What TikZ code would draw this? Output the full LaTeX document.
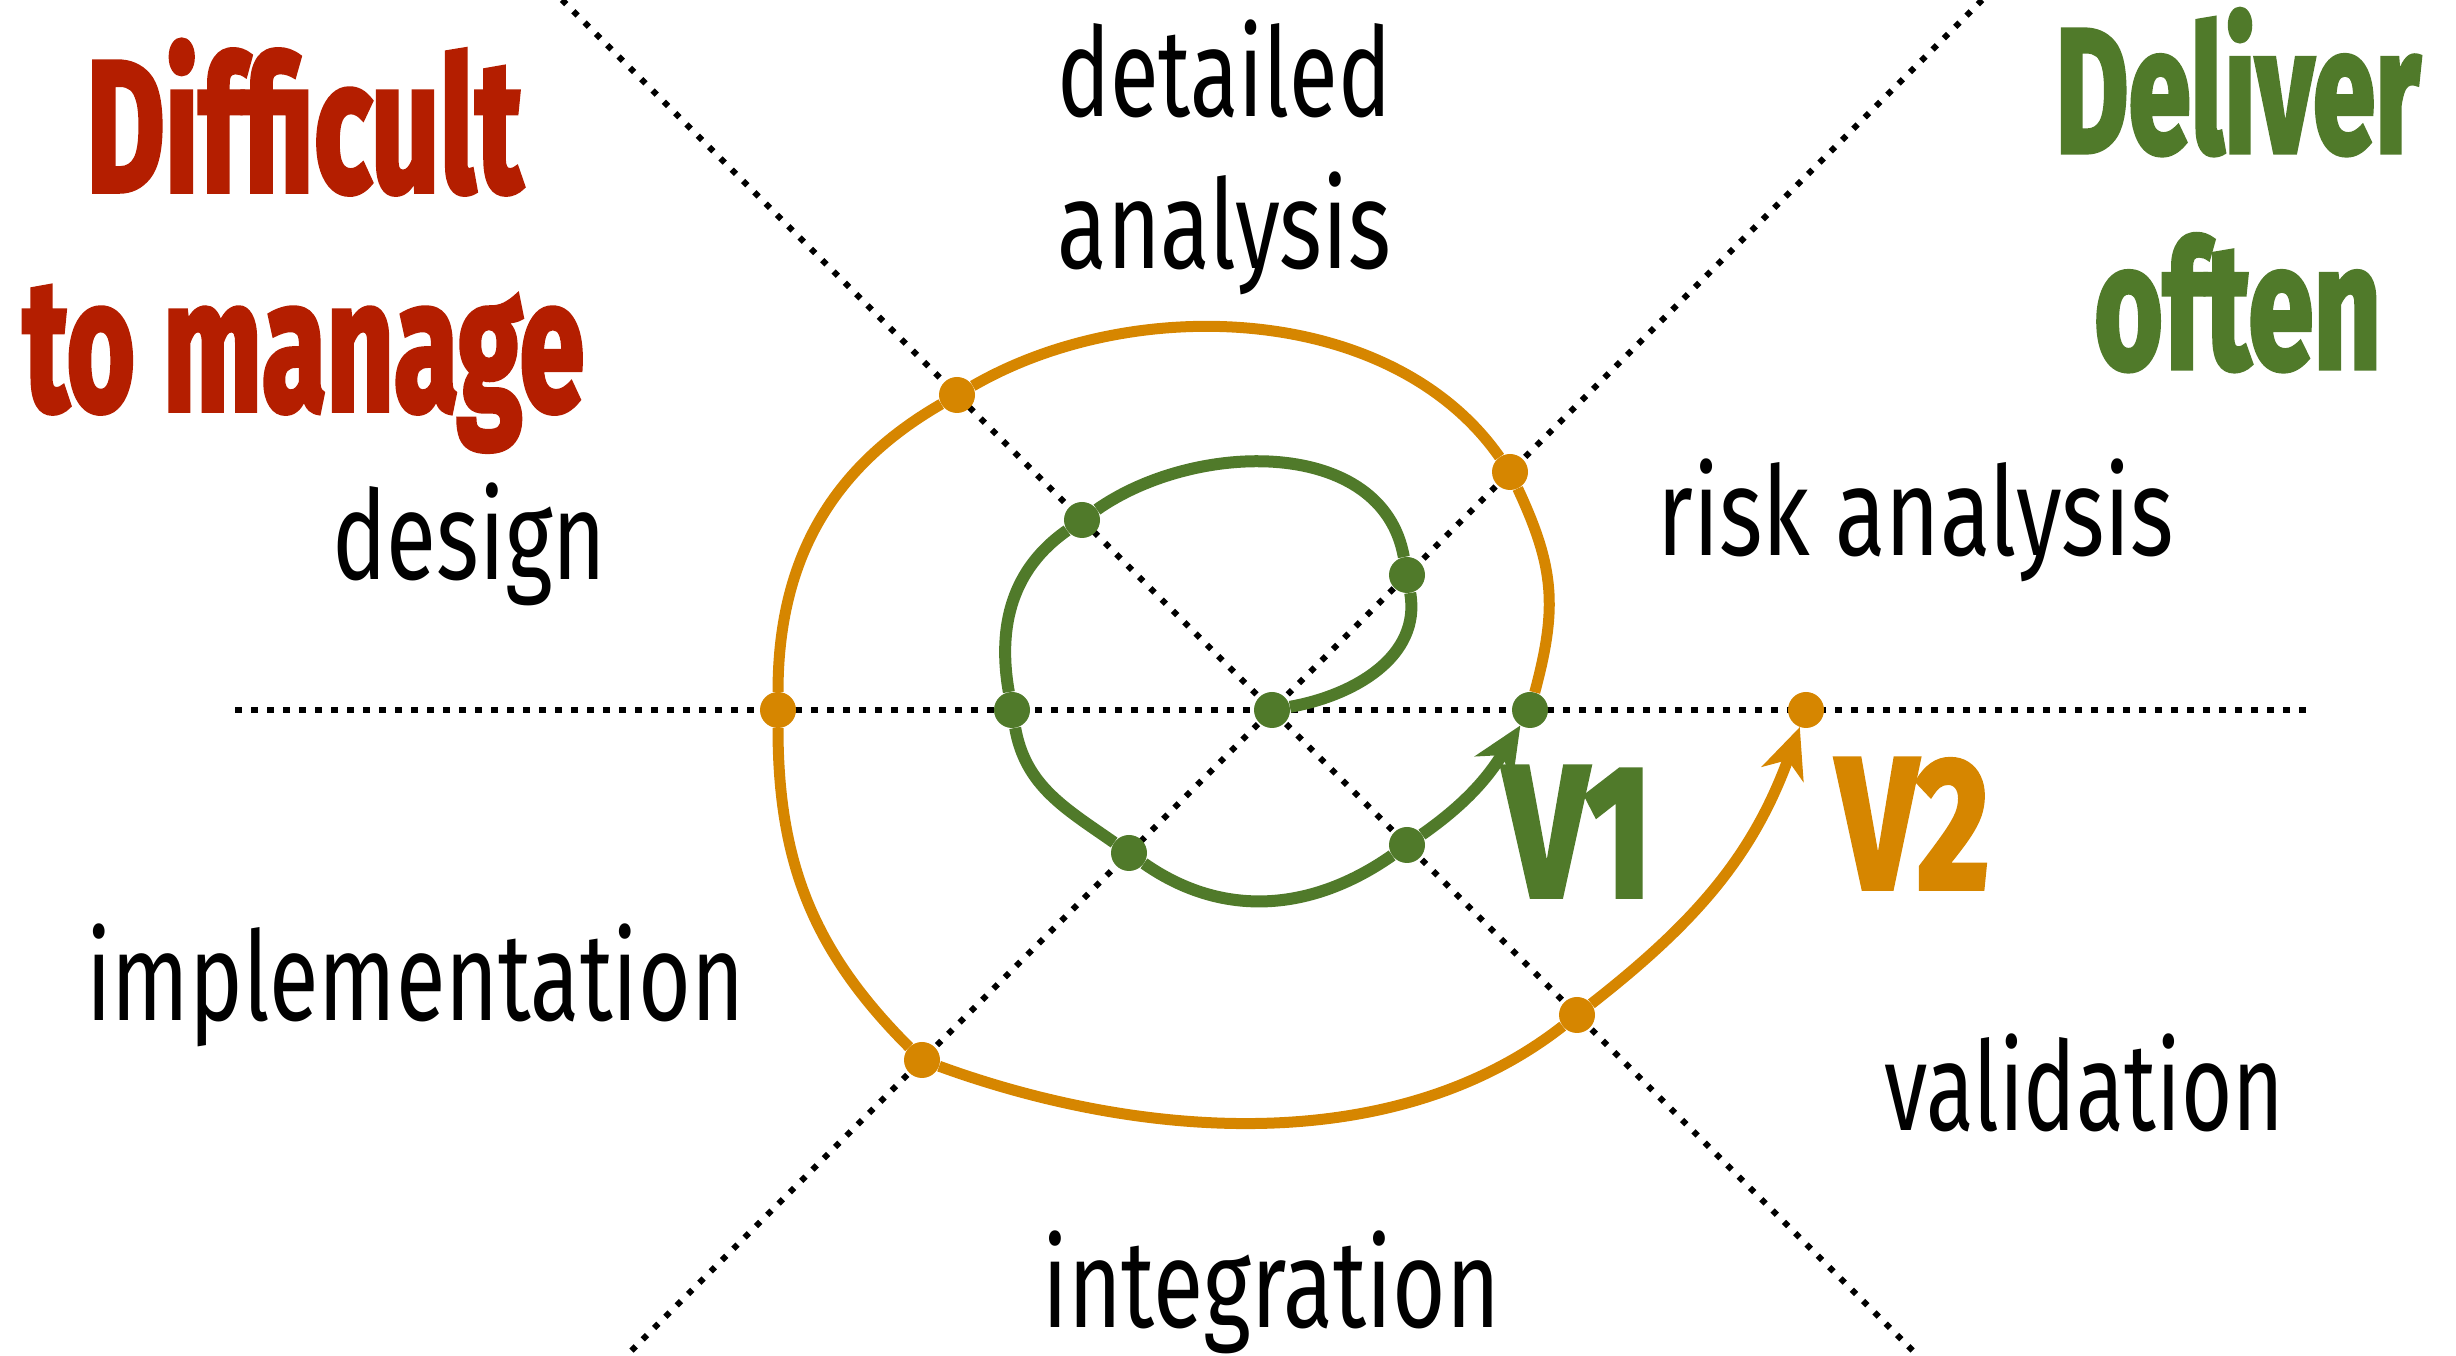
\documentclass[tikz,border=0pt]{standalone}
\usepackage{fontspec}
\setmainfont{Fira Sans}
\usetikzlibrary{arrows.meta}
\definecolor{cred}{RGB}{180,30,0}
\definecolor{cgreen}{RGB}{80,122,42}
\definecolor{corange}{RGB}{214,134,0}
\newcommand{\fitw}[3]{\resizebox{#1}{\height}{\fontsize{#2}{#2}\selectfont #3}}
\newcommand{\heavytext}[1]{{\bfseries\addfontfeatures{FakeBold=3}#1}}
\begin{document}
\begin{tikzpicture}[x=1pt,y=1pt,
  axisline/.style={line width=6.5pt, dash pattern=on 6.5pt off 9.5pt, black},
  diagline/.style={line width=6pt, dash pattern=on 6pt off 10pt, black},
  gline/.style={cgreen, line width=12pt},
  oline/.style={corange, line width=11pt},
  gdot/.style={circle, fill=cgreen, inner sep=0pt, minimum size=36pt},
  odot/.style={circle, fill=corange, inner sep=0pt, minimum size=36pt},
  lbl/.style={inner sep=0pt, anchor=base west},
  tipstyle/.style={-{Stealth[length=50pt,width=44pt,inset=15pt]}},
]
\useasboundingbox (0,0) rectangle (2456,1356);
% axes
\coordinate (hl) at (235,646);
\coordinate (hr) at (2310,646);
\coordinate (d1a) at (562,1356);
\coordinate (d1b) at (1918,0);
\coordinate (d2a) at (1982,1356);
\coordinate (d2b) at (626,0);
\draw[axisline] (hl) -- (hr);
\draw[diagline] (d1a) -- (d1b);
\draw[diagline] (d2a) -- (d2b);

% green nodes
\node[gdot] (g0) at (1272,646) {};
\node[gdot] (g1) at (1407,781) {};
\node[gdot] (g2) at (1082,836) {};
\node[gdot] (g3) at (1012,646) {};
\node[gdot] (g4) at (1129,503) {};
\node[gdot] (g5) at (1407,511) {};
\node[gdot] (g6) at (1530,646) {};
% orange nodes
\node[odot] (o1) at (1510,884) {};
\node[odot] (o2) at (957,961) {};
\node[odot] (o3) at (778,646) {};
\node[odot] (o4) at (922,296) {};
\node[odot] (o5) at (1577,341) {};
\node[odot] (o6) at (1806,646) {};

% green spiral
\draw[gline] (g0) to[out=10,in=-80] (g1)
  to[out=100,in=35] (g2)
  to[out=215,in=100] (g3)
  to[out=280,in=145] (g4)
  to[out=325,in=215] (g5);
\draw[gline,tipstyle] (g5) to[out=35,in=238] (g6);
% orange spiral
\draw[oline] (g6) to[out=75,in=-65,looseness=1.1] (o1)
  to[out=125,in=30,looseness=0.9] (o2)
  to[out=210,in=90] (o3)
  to[out=270,in=135] (o4)
  to[out=-20,in=218,looseness=0.88] (o5);
\draw[oline,tipstyle] (o5) to[out=38,in=250] (o6);

% labels
\node[lbl] (tdet) at (1057,1239) {\fitw{334pt}{124}{detailed}};
\node[lbl] (tana) at (1057,1087) {\fitw{334pt}{124}{analysis}};
\node[lbl] (trisk) at (1657,800) {\fitw{517pt}{124}{risk analysis}};
\node[lbl] (tdes) at (332,776) {\fitw{274pt}{124}{design}};
\node[lbl] (timp) at (86,335) {\fitw{658pt}{124}{implementation}};
\node[lbl] (tval) at (1884,225) {\fitw{400pt}{124}{validation}};
\node[lbl] (tint) at (1042,28) {\fitw{458pt}{124}{integration}};

\node[lbl, text=cred] (tdif) at (86,1165) {\fitw{436pt}{186}{\heavytext{Difficult}}};
\node[lbl, text=cred] (tman) at (23,946) {\fitw{561pt}{186}{\heavytext{to manage}}};
\node[lbl, text=cgreen] (tdel) at (2055,1204) {\fitw{365pt}{176}{\heavytext{Deliver}}};
\node[lbl, text=cgreen] (toft) at (2094,988) {\fitw{287pt}{176}{\heavytext{often}}};
\node[lbl, text=cgreen] (tv1) at (1504,460) {\fitw{148pt}{186}{\heavytext{V1}}};
\node[lbl, text=corange] (tv2) at (1837,468) {\fitw{152pt}{186}{\heavytext{V2}}};
\end{tikzpicture}
\end{document}
